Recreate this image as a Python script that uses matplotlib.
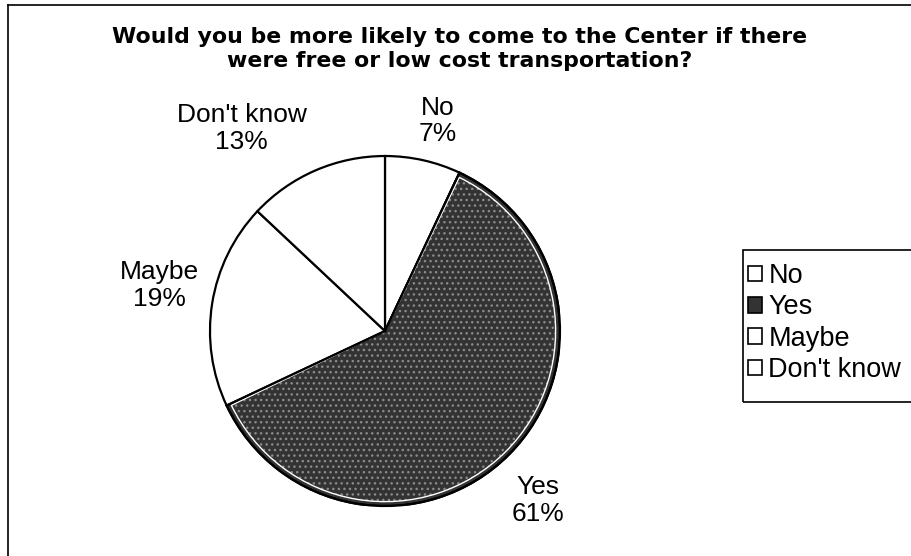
### Libraries
import matplotlib
matplotlib.use("Agg")
import matplotlib.pyplot as plt
from matplotlib.patches import Wedge, Patch, Rectangle
from matplotlib.lines import Line2D

### Data
categories = ["No", "Yes", "Maybe", "Don't know"]
shares = [7, 61, 19, 13]
pct_labels = ["7%", "61%", "19%", "13%"]
title = "Would you be more likely to come to the Center if there\nwere free or low cost transportation?"

### Style
plt.rcParams['font.family'] = ['Liberation Sans', 'DejaVu Sans']
face = ['white', '#333333', 'white', 'white']
# label centres in pie units (radius = 1)
label_xy = [(0.30, 1.20), (0.874, -0.97), (-1.29, 0.26), (-0.82, 1.155)]

W, H = 911, 556
fig = plt.figure(figsize=(W / 100, H / 100), dpi=100)
ax = fig.add_axes([0.2305, 0.0899, 0.3842, 0.6295])

wedges, _ = ax.pie(shares, colors=face, startangle=90, counterclock=False,
                   wedgeprops=dict(edgecolor='black', linewidth=1.6))
ax.set_xlim(-1, 1)
ax.set_ylim(-1, 1)

# stippled look for the "Yes" slice
w = wedges[1]
ax.add_patch(Wedge(w.center, w.r * 0.975, w.theta1, w.theta2, facecolor='none',
                   edgecolor='#8a8a8a', hatch='...', linewidth=0, zorder=2))
ax.add_patch(Wedge(w.center, w.r * 0.975, w.theta1 + 0.6, w.theta2 - 0.6, facecolor='none',
                   edgecolor='white', linewidth=1.0, zorder=3))
ax.add_patch(Wedge(w.center, w.r, w.theta1, w.theta2, facecolor='none',
                   edgecolor='black', linewidth=1.6, zorder=4))

for (x, y), cat, pct in zip(label_xy, categories, pct_labels):
    ax.text(x, y, cat + "\n" + pct, ha='center', va='center', fontsize=19,
            linespacing=1.15, clip_on=False)

fig.text(0.504, 0.951, title, ha='center', va='top', fontsize=15.8,
         fontweight='bold', family='DejaVu Sans', linespacing=1.25)

# legend (frame drawn separately, it runs off the right edge)
handles = [Patch(facecolor=c, edgecolor='black', linewidth=1.2) for c in face]
leg = fig.legend(handles, categories, loc='upper left',
                 bbox_to_anchor=(748 / W, 1 - 263 / H), fontsize=19.5,
                 frameon=False, borderpad=0, labelspacing=0.2,
                 handlelength=0.5, handleheight=0.5, handletextpad=0.25,
                 borderaxespad=0)
fig.add_artist(Rectangle((743 / W, 1 - 402 / H), 175 / W, 152 / H, transform=fig.transFigure,
                         facecolor='none', edgecolor='black', linewidth=1.2))

# outer frame (left and top edges of the scanned box)
fig.add_artist(Line2D([8 / W, 8 / W], [0, 1 - 5 / H], color='black', linewidth=1.2))
fig.add_artist(Line2D([8 / W, 1], [1 - 5 / H, 1 - 5 / H], color='black', linewidth=1.2))

plt.savefig('out.png', dpi=100)
